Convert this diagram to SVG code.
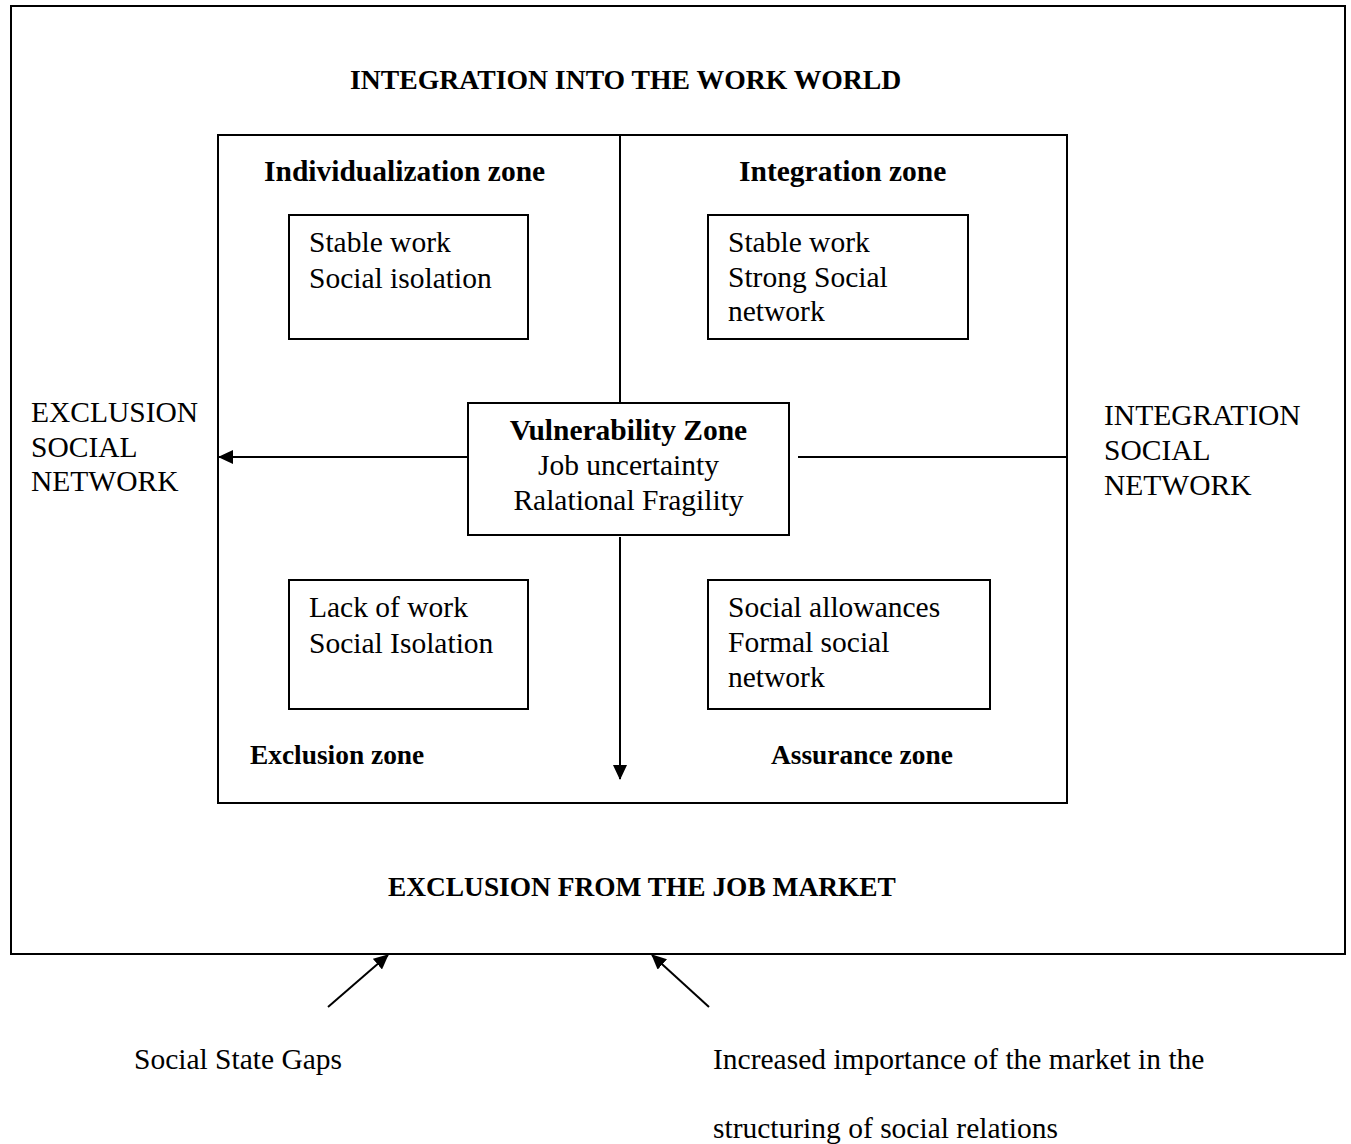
<svg xmlns="http://www.w3.org/2000/svg" width="1351" height="1144" viewBox="0 0 1351 1144">
<defs>
<marker id="ah" viewBox="0 0 15 14" refX="14" refY="7" markerWidth="15" markerHeight="14" markerUnits="userSpaceOnUse" orient="auto">
<path d="M0,0 L15,7 L0,14 Z" fill="#000"/>
</marker>
<style>
.box{fill:#fff;stroke:#000;stroke-width:2}
.ln{stroke:#000;stroke-width:2;fill:none}
.t{font-family:"Liberation Serif","Times New Roman",serif;font-size:29.5px;fill:#000}
.b{font-family:"Liberation Serif","Times New Roman",serif;font-weight:bold;fill:#000}
.b30{font-size:29.5px}
.b27{font-size:27.4px}
.b28{font-size:27.7px}
</style>
</defs>
<rect width="1351" height="1144" fill="#fff"/>
<g id="outer">
<rect class="box" x="11" y="6" width="1334" height="948"/>
<text class="b b28" x="350" y="89">INTEGRATION INTO THE WORK WORLD</text>
<text class="b b27" x="388" y="896">EXCLUSION FROM THE JOB MARKET</text>
<text class="t" x="31" y="422">EXCLUSION</text>
<text class="t" x="31" y="457">SOCIAL</text>
<text class="t" x="31" y="491">NETWORK</text>
<text class="t" x="1104" y="425">INTEGRATION</text>
<text class="t" x="1104" y="460">SOCIAL</text>
<text class="t" x="1104" y="495">NETWORK</text>
</g>
<g id="inner">
<rect class="box" x="218" y="135" width="849" height="668"/>
<text class="b b30" x="264" y="181">Individualization zone</text>
<text class="b b30" x="739" y="181">Integration zone</text>
<text class="b b27" x="250" y="764">Exclusion zone</text>
<text class="b b27" x="771" y="764">Assurance zone</text>
</g>
<g id="connectors">
<line class="ln" x1="620" y1="135" x2="620" y2="403"/>
<line class="ln" x1="468" y1="457" x2="219" y2="457" marker-end="url(#ah)"/>
<line class="ln" x1="798" y1="457" x2="1067" y2="457"/>
<line class="ln" x1="620" y1="537" x2="620" y2="779" marker-end="url(#ah)"/>
<line class="ln" x1="328" y1="1007" x2="388" y2="955" marker-end="url(#ah)"/>
<line class="ln" x1="709" y1="1007" x2="652" y2="955" marker-end="url(#ah)"/>
</g>
<g id="individualization">
<rect class="box" x="289" y="215" width="239" height="124"/>
<text class="t" x="309" y="252">Stable work</text>
<text class="t" x="309" y="288">Social isolation</text>
</g>
<g id="integration">
<rect class="box" x="708" y="215" width="260" height="124"/>
<text class="t" x="728" y="252">Stable work</text>
<text class="t" x="728" y="287">Strong Social</text>
<text class="t" x="728" y="321">network</text>
</g>
<g id="vulnerability">
<rect class="box" x="468" y="403" width="321" height="132"/>
<text class="b b30" x="628.5" y="440" text-anchor="middle">Vulnerability Zone</text>
<text class="t" x="628.5" y="475" text-anchor="middle">Job uncertainty</text>
<text class="t" x="628.5" y="510" text-anchor="middle">Ralational Fragility</text>
</g>
<g id="exclusion">
<rect class="box" x="289" y="580" width="239" height="129"/>
<text class="t" x="309" y="617">Lack of work</text>
<text class="t" x="309" y="653">Social Isolation</text>
</g>
<g id="assurance">
<rect class="box" x="708" y="580" width="282" height="129"/>
<text class="t" x="728" y="617">Social allowances</text>
<text class="t" x="728" y="652">Formal social</text>
<text class="t" x="728" y="687">network</text>
</g>
<g id="notes">
<text class="t" x="134" y="1069">Social State Gaps</text>
<text class="t" x="713" y="1069">Increased importance of the market in the</text>
<text class="t" x="713" y="1138">structuring of social relations</text>
</g>
</svg>
